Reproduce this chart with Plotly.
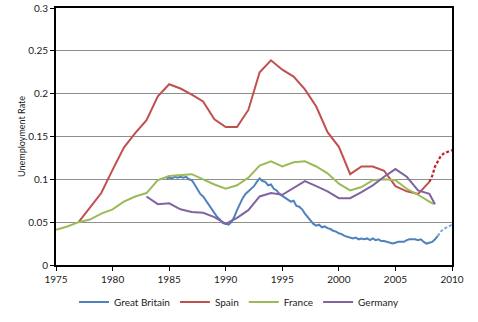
import plotly.graph_objects as go

# ---- data ----
spain_years = [1977, 1978, 1979, 1980, 1981, 1982, 1983, 1984, 1985, 1986, 1987, 1988, 1989,
               1990, 1991, 1992, 1993, 1994, 1995, 1996, 1997, 1998, 1999, 2000, 2001, 2002,
               2003, 2004, 2005, 2006, 2007, 2008]
spain_vals = [0.050, 0.067, 0.084, 0.111, 0.137, 0.154, 0.169, 0.197, 0.211, 0.206, 0.199, 0.191, 0.170,
              0.161, 0.161, 0.181, 0.225, 0.239, 0.228, 0.220, 0.205, 0.185, 0.155, 0.138, 0.106, 0.115,
              0.115, 0.110, 0.092, 0.086, 0.083, 0.097]
spain_fc_years = [2008.0, 2008.25, 2008.5, 2008.75, 2009.0, 2009.25, 2009.5, 2009.75, 2010.0]
spain_fc_vals = [0.097, 0.104, 0.115, 0.122, 0.127, 0.130, 0.132, 0.133, 0.134]

france_years = [1975, 1976, 1977, 1978, 1979, 1980, 1981, 1982, 1983, 1984, 1985, 1986, 1987,
                1988, 1989, 1990, 1991, 1992, 1993, 1994, 1995, 1996, 1997, 1998, 1999, 2000,
                2001, 2002, 2003, 2004, 2005, 2006, 2007, 2008, 2008.4]
france_vals = [0.041, 0.045, 0.050, 0.053, 0.060, 0.065, 0.074, 0.080, 0.084, 0.099, 0.104, 0.105, 0.106,
               0.100, 0.094, 0.089, 0.093, 0.102, 0.116, 0.121, 0.115, 0.120, 0.121, 0.115, 0.107, 0.095,
               0.087, 0.091, 0.099, 0.100, 0.099, 0.089, 0.082, 0.074, 0.071]

germany_years = [1983, 1984, 1985, 1986, 1987, 1988, 1989, 1990, 1991, 1992, 1993, 1994, 1995,
                 1996, 1997, 1998, 1999, 2000, 2001, 2002, 2003, 2004, 2005, 2006, 2007, 2008, 2008.5]
germany_vals = [0.080, 0.071, 0.072, 0.065, 0.062, 0.061, 0.056, 0.048, 0.055, 0.064, 0.080, 0.084, 0.082,
                0.090, 0.098, 0.092, 0.086, 0.078, 0.078, 0.085, 0.093, 0.103, 0.112, 0.103, 0.087, 0.083, 0.071]

gb_years = [1984.75, 1985.0, 1985.25, 1985.5, 1985.75, 1986.0, 1986.25, 1986.5, 1986.75,
            1987.0, 1987.25, 1987.5, 1987.75, 1988.0, 1988.25, 1988.5, 1988.75,
            1989.0, 1989.25, 1989.5, 1989.75, 1990.0, 1990.25, 1990.5, 1990.75,
            1991.0, 1991.25, 1991.5, 1991.75, 1992.0, 1992.25, 1992.5, 1992.75,
            1993.0, 1993.25, 1993.5, 1993.75, 1994.0, 1994.25, 1994.5, 1994.75,
            1995.0, 1995.25, 1995.5, 1995.75, 1996.0, 1996.25, 1996.5, 1996.75,
            1997.0, 1997.25, 1997.5, 1997.75, 1998.0, 1998.25, 1998.5, 1998.75,
            1999.0, 1999.25, 1999.5, 1999.75, 2000.0, 2000.25, 2000.5, 2000.75,
            2001.0, 2001.25, 2001.5, 2001.75, 2002.0, 2002.25, 2002.5, 2002.75,
            2003.0, 2003.25, 2003.5, 2003.75, 2004.0, 2004.25, 2004.5, 2004.75,
            2005.0, 2005.25, 2005.5, 2005.75, 2006.0, 2006.25, 2006.5, 2006.75,
            2007.0, 2007.25, 2007.5, 2007.75, 2008.0, 2008.25, 2008.5, 2008.75]
gb_vals = [0.101, 0.102, 0.101, 0.103, 0.102, 0.103, 0.102, 0.103, 0.100,
           0.099, 0.094, 0.089, 0.083, 0.080, 0.075, 0.070, 0.066,
           0.060, 0.056, 0.053, 0.049, 0.048, 0.047, 0.050, 0.056,
           0.064, 0.072, 0.078, 0.083, 0.086, 0.088, 0.092, 0.097,
           0.101, 0.098, 0.097, 0.093, 0.094, 0.089, 0.087, 0.083,
           0.081, 0.078, 0.076, 0.074, 0.075, 0.069, 0.068, 0.065,
           0.060, 0.056, 0.052, 0.048, 0.046, 0.047, 0.044, 0.045,
           0.043, 0.042, 0.040, 0.039, 0.037, 0.036, 0.034, 0.033,
           0.032, 0.031, 0.032, 0.030, 0.031, 0.030, 0.031, 0.029,
           0.031, 0.029, 0.030, 0.028, 0.028, 0.027, 0.026, 0.025,
           0.026, 0.027, 0.027, 0.027, 0.029, 0.030, 0.030, 0.030,
           0.029, 0.030, 0.027, 0.025, 0.026, 0.027, 0.030, 0.034]
gb_fc_years = [2008.75, 2009.0, 2009.25, 2009.5, 2009.75, 2010.0]
gb_fc_vals = [0.034, 0.039, 0.042, 0.044, 0.046, 0.047]

x_ticks = [1975, 1980, 1985, 1990, 1995, 2000, 2005, 2010]
y_ticks = [0, 0.05, 0.1, 0.15, 0.2, 0.25, 0.3]
y_tick_text = ["0", "0.05", "0.1", "0.15", "0.2", "0.25", "0.3"]

C_GB = "#4F81BD"
C_ES = "#C0504D"
C_FR = "#9BBB59"
C_DE = "#8064A2"

fig = go.Figure()
fig.add_trace(go.Scatter(x=gb_years, y=gb_vals, mode="lines", name="Great Britain",
                         line=dict(color=C_GB, width=2)))
fig.add_trace(go.Scatter(x=spain_years, y=spain_vals, mode="lines", name="Spain",
                         line=dict(color=C_ES, width=2)))
fig.add_trace(go.Scatter(x=france_years, y=france_vals, mode="lines", name="France",
                         line=dict(color=C_FR, width=2)))
fig.add_trace(go.Scatter(x=germany_years, y=germany_vals, mode="lines", name="Germany",
                         line=dict(color=C_DE, width=2)))
fig.add_trace(go.Scatter(x=gb_fc_years, y=gb_fc_vals, mode="lines", showlegend=False,
                         line=dict(color="#7BA7DA", width=2, dash="3px,2px")))
fig.add_trace(go.Scatter(x=spain_fc_years, y=spain_fc_vals, mode="lines", showlegend=False,
                         line=dict(color="#C0202A", width=2.2, dash="3px,2px")))

fig.update_layout(
    width=478, height=322,
    margin=dict(l=56, r=26, t=8, b=57, autoexpand=False),
    paper_bgcolor="white", plot_bgcolor="white",
    font=dict(family="Lato", size=10, color="#1a1a1a"),
    showlegend=True,
    legend=dict(orientation="h", xref="container", x=0.5, xanchor="center",
                yref="container", y=0.062, yanchor="middle",
                font=dict(size=10), itemwidth=30, tracegroupgap=0),
    xaxis=dict(range=[1975, 2010], tickvals=x_ticks, ticks="outside", ticklen=4,
               tickcolor="black", showline=True, linecolor="black", linewidth=2,
               mirror=True, showgrid=False, zeroline=False),
    yaxis=dict(range=[0, 0.3], tickvals=y_ticks, ticktext=y_tick_text, ticks="outside",
               ticklen=4, tickcolor="black", showline=True, linecolor="black", linewidth=2,
               mirror=True, showgrid=True, gridcolor="#8E8E8E", gridwidth=1, zeroline=False,
               title=dict(text="Unemployment Rate", font=dict(size=9), standoff=1)),
)

fig.write_html("out.html")
